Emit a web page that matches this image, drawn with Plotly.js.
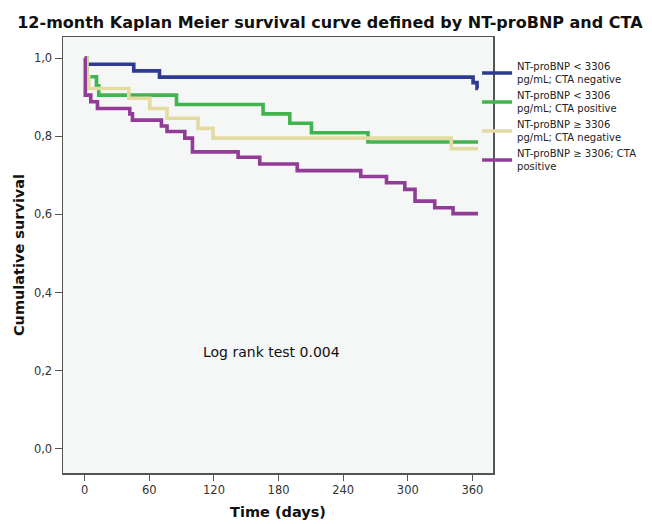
<!DOCTYPE html>
<html>
<head>
<meta charset="utf-8">
<script src="https://cdn.plot.ly/plotly-3.0.1.min.js"></script>
<style>html,body{margin:0;padding:0;background:#fff;}#chart{width:652px;height:524px;}</style>
</head>
<body>
<div id="chart"></div>
<script>
// Series names
const seriesNames = [
  "NT-proBNP < 3306<br>pg/mL; CTA negative",
  "NT-proBNP < 3306<br>pg/mL; CTA positive",
  "NT-proBNP ≥ 3306<br>pg/mL; CTA negative",
  "NT-proBNP ≥ 3306; CTA<br>positive"
];
// Step data: time (days) and cumulative survival
const daysA = [0, 1, 45.5, 69.4, 360.6, 364.3, 365.2];
const survA = [1.0, 0.984, 0.967, 0.951, 0.937, 0.922, 0.922];

const daysB = [0, 2, 10.9, 13, 85.2, 165.6, 190.4, 210.5, 263, 365.2];
const survB = [1.0, 0.952, 0.929, 0.905, 0.881, 0.857, 0.833, 0.809, 0.785, 0.785];

const daysC = [0, 2, 3.7, 40.9, 60.4, 76.4, 105.2, 119.1, 340.3, 365.2];
const survC = [1.0, 0.952, 0.922, 0.897, 0.871, 0.846, 0.820, 0.795, 0.768, 0.768];

const daysD = [0, 0.5, 5.6, 11.8, 41.8, 44.3, 71.2, 76.4, 92.9, 100, 142.4, 162.5, 197.3, 256.3, 280.2, 297.2, 306.7, 325, 342, 365.2];
const survD = [1.0, 0.905, 0.888, 0.871, 0.857, 0.841, 0.826, 0.812, 0.795, 0.760, 0.746, 0.729, 0.712, 0.697, 0.681, 0.664, 0.634, 0.617, 0.602, 0.602];

const xTicks = [0, 60, 120, 180, 240, 300, 360];
const yTicks = [0, 0.2, 0.4, 0.6, 0.8, 1.0];

const colors = ["#2e3b8f", "#41b44e", "#e4dba3", "#923c98"];
const allDays = [daysA, daysB, daysC, daysD];
const allSurv = [survA, survB, survC, survD];

const traces = allDays.map((d, i) => ({
  x: d, y: allSurv[i], type: "scatter", mode: "lines",
  line: {shape: "hv", color: colors[i], width: 3.6},
  name: seriesNames[i]
}));

const layout = {
  width: 652, height: 524,
  margin: {l: 63, r: 159, t: 37, b: 51, autoexpand: false},
  paper_bgcolor: "#ffffff",
  plot_bgcolor: "#f5f6f6",
  separators: ", ",
  font: {family: "DejaVu Sans", color: "#222"},
  title: {
    text: "<b>12-month Kaplan Meier survival curve defined by NT-proBNP and CTA</b>",
    font: {family: "DejaVu Sans", size: 16, color: "#111"},
    x: 0.506, xref: "container", xanchor: "center", y: 0.958, yanchor: "middle"
  },
  xaxis: {
    range: [-20.2, 379.1], tickvals: xTicks, ticks: "outside", ticklen: 6, tickcolor: "#555",
    showline: true, linecolor: "#555", linewidth: 1.5, mirror: true, showgrid: false, zeroline: false,
    tickfont: {size: 11.5, color: "#333"},
    title: {text: "<b>Time (days)</b>", font: {size: 14.5, color: "#111"}, standoff: 10}
  },
  yaxis: {
    range: [-0.0614, 1.0537], tickvals: yTicks, tickformat: ".1f", ticks: "outside", ticklen: 7, tickcolor: "#555",
    showline: true, linecolor: "#555", linewidth: 1.5, mirror: true, showgrid: false, zeroline: false,
    tickfont: {size: 11.5, color: "#333"},
    title: {text: "<b>Cumulative survival</b>", font: {size: 14.5, color: "#111"}, standoff: 6}
  },
  legend: {
    x: 0.963, xanchor: "left", y: 0.962, yanchor: "top",
    bgcolor: "rgba(0,0,0,0)", borderwidth: 0,
    font: {size: 10, color: "#222"}, tracegroupgap: 0
  },
  annotations: [{
    x: 173.2, y: 0.248, xref: "x", yref: "y", text: "Log rank test 0.004",
    showarrow: false, font: {size: 14, color: "#111"}
  }]
};

Plotly.newPlot("chart", traces, layout, {displayModeBar: false, staticPlot: true});
</script>
</body>
</html>
